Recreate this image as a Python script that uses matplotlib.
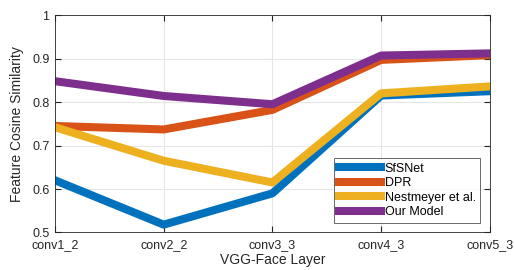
import numpy as np
import matplotlib
matplotlib.use('Agg')
import matplotlib.pyplot as plt

layers = ['conv1_2', 'conv2_2', 'conv3_3', 'conv4_3', 'conv5_3']
sfsnet = [0.620, 0.518, 0.590, 0.815, 0.825]
dpr = [0.745, 0.737, 0.782, 0.897, 0.908]
nestmeyer = [0.742, 0.665, 0.615, 0.820, 0.836]
ours = [0.848, 0.814, 0.795, 0.907, 0.912]

plt.rcParams['font.family'] = ['Liberation Sans', 'DejaVu Sans']

fig = plt.figure(figsize=(5.14, 2.70), dpi=100)
ax = fig.add_axes([0.107, 0.139, 0.846, 0.805])

x = np.arange(len(layers))
lw = 5.8
ax.plot(x, sfsnet, color=(0, 0.447, 0.741), lw=lw, label='SfSNet')
ax.plot(x, dpr, color=(0.85, 0.325, 0.098), lw=lw, label='DPR')
ax.plot(x, nestmeyer, color=(0.929, 0.694, 0.125), lw=lw, label='Nestmeyer et al.')
ax.plot(x, ours, color=(0.494, 0.184, 0.556), lw=lw, label='Our Model')

ax.set_xlim(0, 4)
ax.set_ylim(0.5, 1)
ax.set_xticks(x)
ax.set_xticklabels(layers)
ax.set_yticks([0.5, 0.6, 0.7, 0.8, 0.9, 1])
ax.set_yticklabels(['0.5', '0.6', '0.7', '0.8', '0.9', '1'])
ax.grid(True, color='#e6e6e6', lw=0.8)
ax.set_axisbelow(True)
ax.tick_params(direction='in', length=4, colors='#262626', labelsize=9,
               top=True, right=True)
ax.tick_params(axis='x', pad=5)
ax.tick_params(axis='y', pad=4)
for s in ax.spines.values():
    s.set_color('#262626')
    s.set_linewidth(0.6)

ax.set_xlabel('VGG-Face Layer', fontsize=10, color='#262626', labelpad=1)
ax.set_ylabel('Feature Cosine Similarity', fontsize=10, color='#262626', labelpad=6)

leg = ax.legend(loc='lower right', bbox_to_anchor=(0.978, 0.045), fontsize=9,
                frameon=True, fancybox=False, edgecolor='#262626',
                handlelength=3.4, handletextpad=0.3, borderpad=0.35,
                labelspacing=0.2, borderaxespad=0)
leg.get_frame().set_linewidth(0.6)

fig.savefig('out.png', dpi=100)
